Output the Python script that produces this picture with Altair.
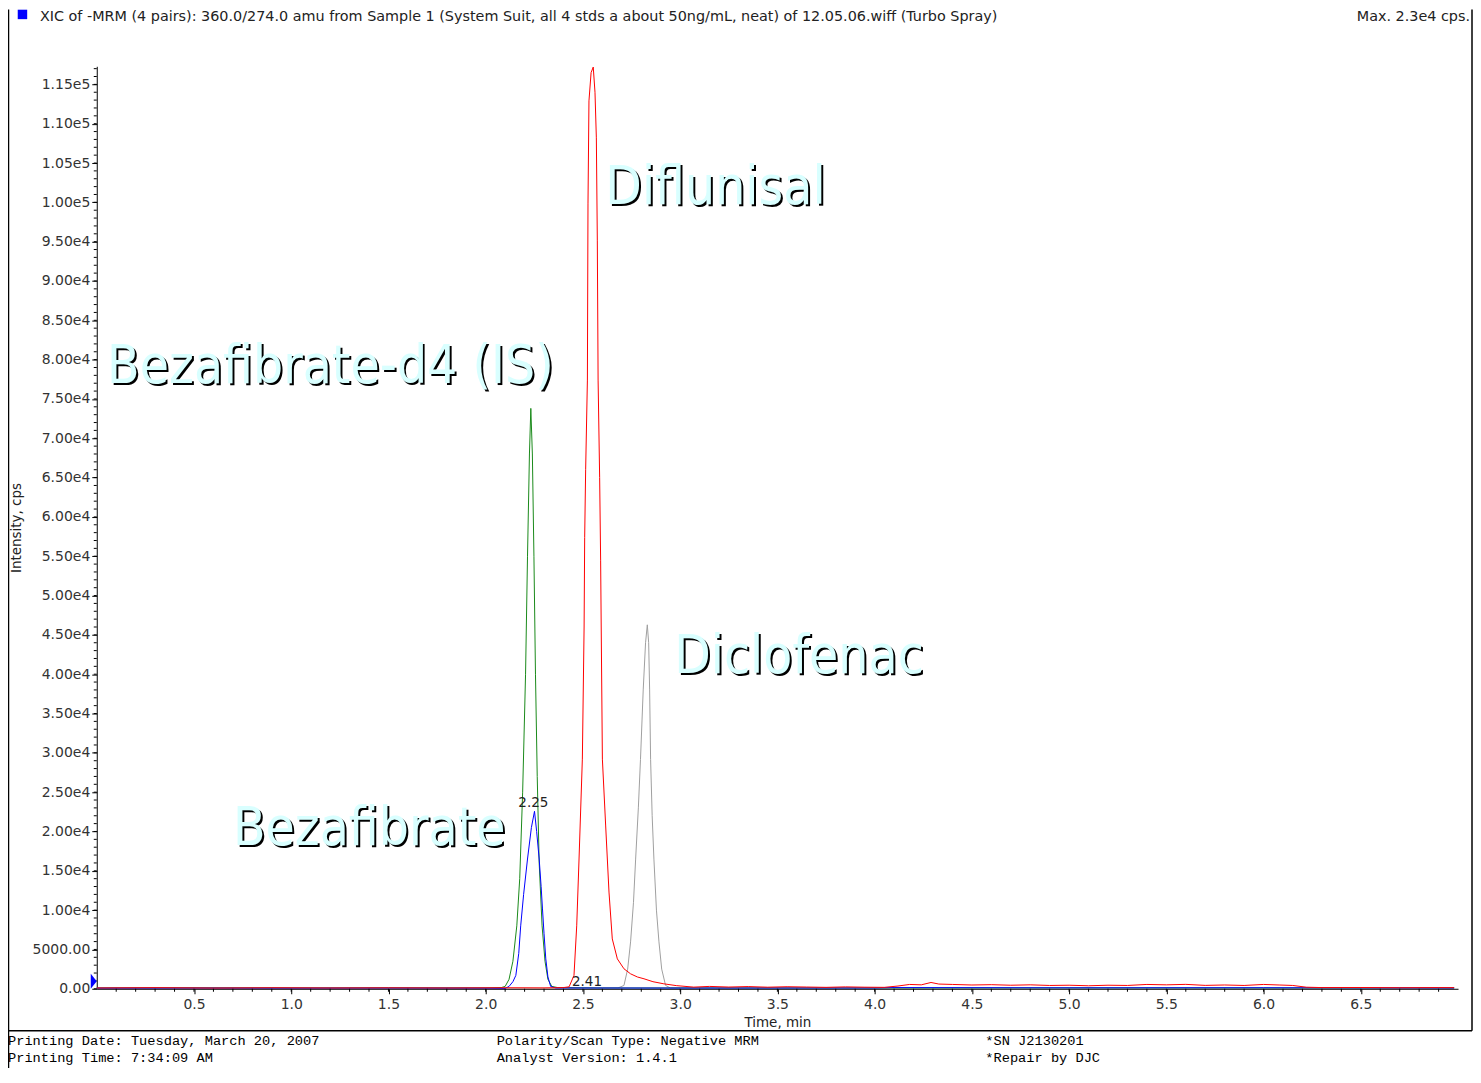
import altair as alt
import pandas as pd

# ---------------- data ----------------
SERIES = ["Diclofenac", "Bezafibrate-d4 (IS)", "Bezafibrate", "Diflunisal"]
COLORS = ["#a0a0a0", "#1a8a1a", "#0000ff", "#ff0000"]

GRAY_T = [0.0, 0.5, 1.0, 1.5, 2.0, 2.5, 2.68, 2.711, 2.73, 2.745, 2.76, 2.771, 2.785, 2.796, 2.81, 2.822,
          2.831, 2.838, 2.843, 2.848, 2.856, 2.865, 2.878, 2.891, 2.905, 2.925, 2.95, 3.2, 4.0, 5.0, 6.0, 6.98]
GRAY_I = [60, 70, 60, 70, 60, 70, 100, 420, 2500, 5960, 11000, 16490, 23000, 29170, 38000, 44000,
          46280, 44000, 38000, 29170, 22000, 16490, 10000, 5960, 2500, 420, 100, 70, 60, 70, 60, 60]

GREEN_T = [0.0, 0.5, 1.0, 1.5, 2.0, 2.08, 2.10, 2.12, 2.14, 2.16, 2.175, 2.19, 2.205, 2.215, 2.225, 2.232,
           2.24, 2.248, 2.256, 2.265, 2.275, 2.29, 2.305, 2.32, 2.34, 2.37, 2.6, 3.0, 4.0, 5.0, 6.0, 6.98]
GREEN_I = [100, 120, 100, 110, 100, 150, 300, 1200, 3500, 8000, 14000, 25000, 40000, 55000, 68000, 73800,
           68000, 55000, 40000, 27000, 16000, 8000, 3500, 1200, 300, 150, 100, 100, 100, 110, 100, 100]

BLUE_T = [0.0, 0.5, 1.0, 1.5, 2.0, 2.10, 2.12, 2.14, 2.155, 2.17, 2.18, 2.195, 2.215, 2.235, 2.251, 2.262,
          2.275, 2.285, 2.292, 2.30, 2.309, 2.32, 2.334, 2.36, 2.40, 3.0, 4.0, 4.1, 5.0, 6.0, 6.98]
BLUE_I = [80, 90, 80, 90, 80, 50, 300, 900, 1700, 4500, 8000, 12000, 16500, 20500, 22570, 20000,
          16500, 13000, 10150, 7000, 3800, 1500, 300, 100, 100, 90, 100, 150, 120, 130, 100]

RED_T = [0.0, 0.3, 0.6, 0.9, 1.2, 1.5, 1.8, 2.1, 2.3, 2.40, 2.429, 2.454, 2.468, 2.480, 2.497, 2.506,
         2.509, 2.514, 2.523, 2.526, 2.531, 2.542, 2.553, 2.562, 2.569, 2.574, 2.578, 2.586, 2.591, 2.594,
         2.600, 2.617, 2.634, 2.651, 2.677, 2.711, 2.745, 2.78, 2.814, 2.86, 2.916, 2.98, 3.07, 3.15,
         3.25, 3.35, 3.45, 3.55, 3.65, 3.75, 3.85, 3.95, 4.05, 4.12, 4.18, 4.24, 4.29, 4.33, 4.4, 4.5,
         4.6, 4.7, 4.8, 4.9, 5.0, 5.1, 5.2, 5.3, 5.4, 5.5, 5.6, 5.7, 5.8, 5.9, 6.0, 6.08, 6.15, 6.22,
         6.3, 6.5, 6.7, 6.9, 6.98]
RED_I = [100, 140, 90, 130, 100, 120, 100, 130, 110, 150, 250, 1700, 8000, 16500, 29200, 46000,
         57400, 66000, 77400, 99800, 112900, 116500, 117200, 114000, 108200, 95100, 77400, 65000, 54500, 46000,
         29200, 20700, 12300, 6340, 3800, 2540, 1900, 1500, 1270, 900, 630, 400, 210, 300,
         220, 280, 200, 260, 220, 180, 240, 200, 180, 350, 550, 500, 800, 600, 550, 480,
         520, 450, 500, 420, 450, 380, 450, 420, 550, 500, 560, 430, 480, 420, 550, 480, 420, 200,
         150, 160, 130, 150, 140]

X_MAJOR = [0.5, 1.0, 1.5, 2.0, 2.5, 3.0, 3.5, 4.0, 4.5, 5.0, 5.5, 6.0, 6.5]
X_MINOR = [round(0.1 * i, 1) for i in range(1, 70)]
Y_MAJOR = [5000 * i for i in range(0, 24)]
Y_MINOR = [1000 * i for i in range(0, 118)]

LABEL_TEXT = ["Bezafibrate-d4 (IS)", "Diflunisal", "Diclofenac", "Bezafibrate"]
LABEL_T = [0.053, 2.615, 2.969, 0.70]
LABEL_I = [76970, 99760, 40160, 18260]

PEAK_TEXT = ["2.25", "2.41"]
PEAK_T = [2.245, 2.521]
PEAK_I = [23080, 380]

TITLE = ("XIC of -MRM (4 pairs): 360.0/274.0 amu from Sample 1 (System Suit, all 4 stds a about 50ng/mL, "
         "neat) of 12.05.06.wiff (Turbo Spray)")
MAX_TEXT = "Max. 2.3e4 cps."
FOOT_LEFT = ["Printing Date: Tuesday, March 20, 2007", "Printing Time: 7:34:09 AM"]
FOOT_MID = ["Polarity/Scan Type: Negative MRM", "Analyst Version: 1.4.1"]
FOOT_RIGHT = ["*SN J2130201", "*Repair by DJC"]

# ---------------- chart ----------------
W, H = 1365, 925
xs = alt.Scale(domain=[0, 7.0], nice=False, zero=False)
ys = alt.Scale(domain=[0, 117300], nice=False, zero=True)
TICK_FONT = "DejaVu Sans"

x_axis = alt.Axis(values=X_MAJOR, format=".1f", title="Time, min", grid=False,
                  domainColor="black", tickColor="black", tickSize=5, labelPadding=4,
                  labelFont=TICK_FONT, labelFontSize=14, labelColor="#333333",
                  titleFont=TICK_FONT, titleFontSize=13.5, titleFontWeight="normal", titleColor="#222222",
                  titleY=33.5, titleBaseline="middle", labelOverlap=False)
y_axis = alt.Axis(values=Y_MAJOR, title="Intensity, cps", grid=False,
                  labelExpr="datum.value == 0 ? '0.00' : (datum.value < 10000 ? format(datum.value, '.2f') : replace(format(datum.value, '.2e'), '+', ''))",
                  domainColor="black", tickColor="black", tickSize=5, labelPadding=2,
                  labelFont=TICK_FONT, labelFontSize=14, labelColor="#333333",
                  titleFont=TICK_FONT, titleFontSize=13.5, titleFontWeight="normal", titleColor="#222222",
                  titleX=-80, titleY=H / 2, titleAngle=270, titleAlign="center", titleBaseline="middle",
                  labelOverlap=False)

def X(field):
    return alt.X(field, scale=xs, axis=x_axis)

def Y(field):
    return alt.Y(field, scale=ys, axis=y_axis)

layers = []
data_sets = [(GRAY_T, GRAY_I), (GREEN_T, GREEN_I), (BLUE_T, BLUE_I), (RED_T, RED_I)]
for (ts, vs), col in zip(data_sets, COLORS):
    layers.append(
        alt.Chart(pd.DataFrame({"t": ts, "i": vs})).mark_line(strokeWidth=1, color=col).encode(
            x=X("t:Q"), y=Y("i:Q"))
    )

minor_x = alt.Chart(pd.DataFrame({"t": X_MINOR})).mark_rule(color="black", strokeWidth=1).encode(
    x=X("t:Q"), y=alt.value(H), y2=alt.value(H + 3))
minor_y = alt.Chart(pd.DataFrame({"i": Y_MINOR})).mark_rule(color="black", strokeWidth=1).encode(
    y=Y("i:Q"), x=alt.value(-3), x2=alt.value(0))

lab_df = pd.DataFrame({"txt": LABEL_TEXT, "t": LABEL_T, "i": LABEL_I})
BIG_FONT = "DejaVu Sans Condensed, DejaVu Sans"
lab_shadow = alt.Chart(lab_df).mark_text(align="left", baseline="alphabetic", font=BIG_FONT, fontSize=53,
                                         color="#000000", dx=2, dy=2).encode(
    x=X("t:Q"), y=Y("i:Q"), text="txt:N")
lab_front = alt.Chart(lab_df).mark_text(align="left", baseline="alphabetic", font=BIG_FONT, fontSize=53,
                                        color="#d9ffff").encode(
    x=X("t:Q"), y=Y("i:Q"), text="txt:N")

peak_df = pd.DataFrame({"txt": PEAK_TEXT, "t": PEAK_T, "i": PEAK_I})
peak_lab = alt.Chart(peak_df).mark_text(align="center", baseline="alphabetic", font=TICK_FONT, fontSize=13.5,
                                        color="#222222").encode(
    x=X("t:Q"), y=Y("i:Q"), text="txt:N")

marker = alt.Chart(pd.DataFrame({"i": [950]})).mark_point(
    shape="M-0.4,-1L0.4,0L-0.4,1Z", size=225, filled=True, color="#0000ff", opacity=1).encode(
    x=alt.value(-3), y=Y("i:Q"))

# header / footer decorations
title_t = alt.Chart(pd.DataFrame({"s": [TITLE]})).mark_text(
    align="left", baseline="middle", font="DejaVu Sans", fontSize=14.4, color="#222222").encode(
    x=alt.value(-57), y=alt.value(-49), text="s:N")
max_t = alt.Chart(pd.DataFrame({"s": [MAX_TEXT]})).mark_text(
    align="right", baseline="middle", font="DejaVu Sans", fontSize=14.4, color="#222222").encode(
    x=alt.value(1377), y=alt.value(-49), text="s:N")
square = alt.Chart(pd.DataFrame({"s": ["m"]})).mark_square(size=90, color="#0000ff", opacity=1).encode(
    x=alt.value(-74.5), y=alt.value(-52))

def foot(lines, xpix):
    return [alt.Chart(pd.DataFrame({"s": [ln]})).mark_text(
        align="left", baseline="middle", font="Liberation Mono", fontSize=13.7, color="#000000").encode(
        x=alt.value(xpix), y=alt.value(977 + 17 * j), text="s:N") for j, ln in enumerate(lines)]

footers = foot(FOOT_LEFT, -89) + foot(FOOT_MID, 401) + foot(FOOT_RIGHT, 891)

frame_bottom = alt.Chart(pd.DataFrame({"s": [0]})).mark_rule(color="#000000", strokeWidth=1.5).encode(
    x=alt.value(-89), x2=alt.value(1379), y=alt.value(967))
frame_right = alt.Chart(pd.DataFrame({"s": [0]})).mark_rule(color="#000000", strokeWidth=1.5).encode(
    x=alt.value(1379), y=alt.value(-57), y2=alt.value(967))
frame_left = alt.Chart(pd.DataFrame({"s": [0]})).mark_rule(color="#000000", strokeWidth=1.5).encode(
    x=alt.value(-88.5), y=alt.value(-57), y2=alt.value(1005))

chart = alt.layer(
    *layers, minor_x, minor_y, lab_shadow, lab_front, peak_lab, marker,
    title_t, max_t, square, *footers, frame_bottom, frame_right, frame_left
).resolve_scale(x="shared", y="shared").properties(
    width=W, height=H,
    autosize=alt.AutoSizeParams(type="none"),
    padding={"left": 89, "top": 57, "right": 15, "bottom": 78},
    background="white",
).configure_view(stroke=None)

chart.save("out.html", embed_options={"renderer": "svg", "actions": False})
